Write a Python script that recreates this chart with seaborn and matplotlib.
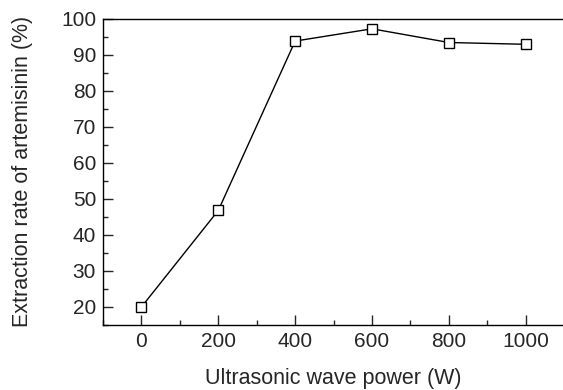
import matplotlib
matplotlib.use("Agg")
import matplotlib.pyplot as plt
import seaborn as sns
import pandas as pd
from matplotlib.ticker import MultipleLocator

# Data
power = [0, 200, 400, 600, 800, 1000]
extraction_rate = [20.0, 46.8, 93.8, 97.2, 93.4, 92.9]

df = pd.DataFrame({'power': power, 'rate': extraction_rate})

sns.set_style('ticks')
plt.rcParams['font.family'] = ['Liberation Sans', 'DejaVu Sans']

fig = plt.figure(figsize=(5.63, 3.90), dpi=100)
ax = fig.add_axes([0.183, 0.1667, 0.819, 0.7853])

sns.lineplot(data=df, x='power', y='rate', ax=ax, color='black', linewidth=1,
             marker='s', markersize=6.5, markerfacecolor='white',
             markeredgecolor='black', markeredgewidth=1)

ax.set_xlim(-100, 1100)
ax.set_ylim(15, 100)
ax.xaxis.set_major_locator(MultipleLocator(200))
ax.xaxis.set_minor_locator(MultipleLocator(100))
ax.yaxis.set_major_locator(MultipleLocator(10))
ax.yaxis.set_minor_locator(MultipleLocator(5))
ax.set_yticks(range(20, 101, 10))

ax.tick_params(which='major', direction='in', length=7, width=1, labelsize=15, pad=5)
ax.tick_params(which='minor', direction='in', length=3.5, width=1)
for s in ax.spines.values():
    s.set_linewidth(1)
    s.set_color('black')
ax.spines['right'].set_visible(False)

ax.set_xlabel('Ultrasonic wave power (W)', fontsize=15.5, labelpad=12)
ax.set_ylabel('Extraction rate of artemisinin (%)', fontsize=15.5, labelpad=20)

fig.savefig('out.png', dpi=100)
